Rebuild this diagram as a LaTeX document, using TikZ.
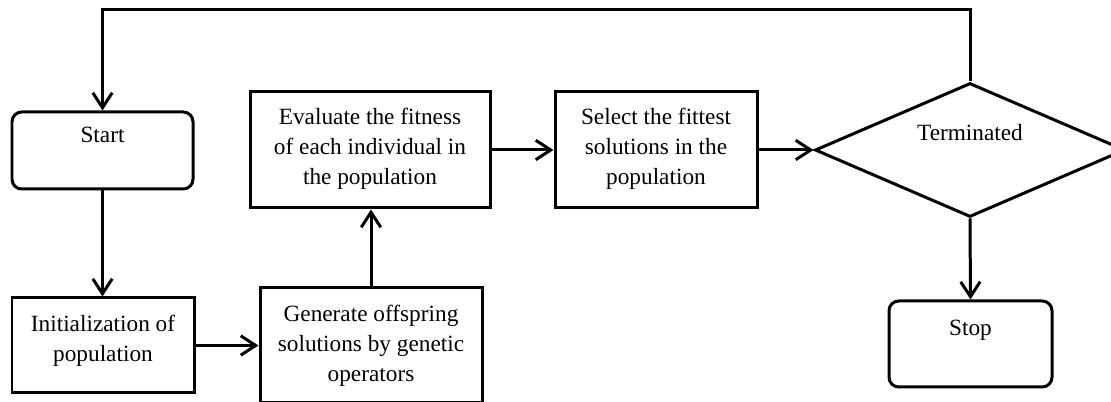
\documentclass[tikz,border=0pt]{standalone}
\usepackage{fontspec}
\setmainfont{Liberation Serif}
\usetikzlibrary{arrows.meta,shapes.geometric}
\begin{document}
\begin{tikzpicture}[x=0.567pt,y=-0.567pt,
  lw/.style={line width=1.7pt},
  sz/.style 2 args={minimum width=#1*0.567pt,minimum height=#2*0.567pt},
  box/.style={draw,lw,rectangle,inner sep=0pt,align=center,font=\fontsize{13.2}{17}\selectfont},
  rbox/.style={box,rounded corners=5.5pt},
  arr/.style={lw,-{Straight Barb[length=8.5pt,width=11pt]}},
  txt/.style={font=\fontsize{13.2}{17}\selectfont,inner sep=0pt}]
\useasboundingbox (0,0) rectangle (1111,402);
\node[rbox,sz={181}{77}] (start) at (102.5,150.5) {Start\\[1pt]\mbox{}};
\node[box,sz={182}{95},text depth=8pt] (init) at (103,345.5) {Initialization of\\population};
\node[box,sz={222}{115}] (gen) at (371,345.5) {Generate offspring\\solutions by genetic\\operators};
\node[box,sz={240}{116},text depth=4pt] (eval) at (370,150) {Evaluate the fitness\\of each individual in\\the population};
\node[box,sz={202}{116},text depth=4pt] (sel) at (656,150) {Select the fittest\\solutions in the\\population};
\node[draw,lw,diamond,inner sep=0pt,sz={310}{134}] (term) at (970,150) {};
\node[txt] (termtext) at (970,133) {Terminated};
\node[rbox,sz={163}{86}] (stop) at (970.5,344) {Stop\\[1pt]\mbox{}};
\coordinate (loop) at (0,10);
\draw[arr] (start.south) -- (start.south |- init.north);
\draw[arr] (init.east) -- (init.east -| gen.west);
\draw[arr] (gen.north) -- (gen.north |- eval.south);
\draw[arr] (eval.east) -- (eval.east -| sel.west);
\draw[arr] (sel.east) -- (term.west);
\draw[arr] (term.south) -- (stop.north);
\draw[arr] (term.north) -- (term.north |- loop) -| (start.north);
\end{tikzpicture}
\end{document}
